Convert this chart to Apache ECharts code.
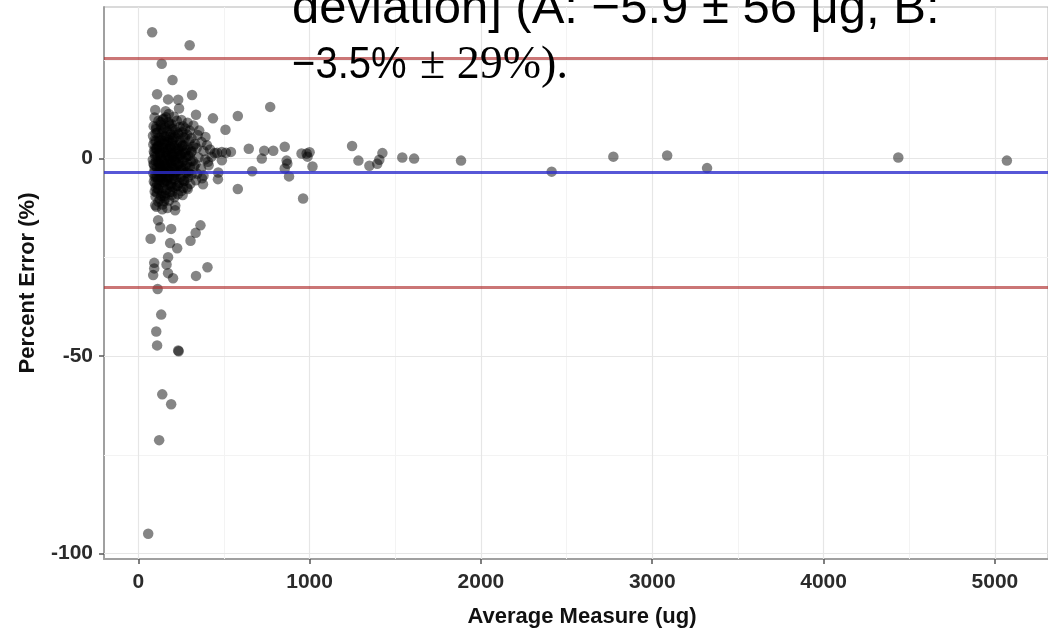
<!DOCTYPE html>
<html><head><meta charset="utf-8">
<script src="https://cdn.jsdelivr.net/npm/echarts@6/dist/echarts.min.js"></script>
<style>html,body{margin:0;padding:0;background:#fff}#c{width:1048px;height:633px}</style>
</head><body><div id="c"></div>
<script>
// ---- data ----
const avgMeasure = [
  // scattered points
  81,300,137,200,110,174,233,314,238,99,337,436,581,770,509,
  645,735,788,855,721,866,870,855,953,983,1000,988,1017,880,665,581,962,
  1248,1285,1349,1395,1407,1425,1541,1610,1884,2413,2773,3087,3320,4436,5070,
  460,488,512,541,488,467,465,407,372,378,
  99,151,215,116,128,192,72,363,335,305,186,227,174,165,174,203,93,93,87,337,404,113,134,105,110,233,236,140,192,122,58,
  // dense cluster
  95,118,148,176,208,252,288,
  90,104,131,158,184,216,241,274,322,356,
  86,101,119,141,163,189,206,229,262,284,311,347,392,
  88,103,114,136,151,171,186,199,226,246,271,298,331,369,401,
  91,106,126,139,161,176,196,214,236,257,281,309,341,381,419,446,
  85,99,116,129,149,166,181,201,219,241,264,291,318,352,391,428,
  92,109,124,141,157,174,191,209,231,251,276,301,334,366,411,
  88,101,121,134,156,169,187,206,224,249,279,311,344,381,
  91,111,129,151,167,189,211,239,269,304,336,
  96,114,139,164,186,216,251,289,
  101,126,154,179,211,259,
  106,141,169,216,
  // cluster core
  130,162,195,225,
  112,146,170,200,258,300,
  95,128,152,178,214,240,272,
  97,120,144,164,192,210,233,260,288,320,
  95,111,133,154,170,188,207,228,248,272,300,
  89,104,120,137,153,171,196,214,236,258,284,306,
  96,115,131,147,163,181,197,216,240,263,292,
  95,118,140,160,178,198,222,258,290,
  102,121,145,175,200,228,262,
  108,133,160,196,232,
  105,122,138,143,159,167,183,190,204,213,221,234,247,255,266,278,293,312,327,
  119,135,156,178,199,123,109,147,188,231,173,117,98,262,284,205,150,126,244,216,181,160,140,195,107,132
];
const percentError = [
  32.0,28.7,24.0,19.9,16.3,15.0,14.9,16.1,12.7,12.3,11.1,10.2,10.8,13.1,7.3,
  2.5,2.0,2.0,3.0,0.0,-0.5,-1.3,-2.5,1.3,1.3,1.6,0.5,-2.0,-4.5,-3.2,-7.7,-10.1,
  3.2,-0.5,-1.8,-1.3,-0.3,1.4,0.3,0.0,-0.5,-3.3,0.5,0.8,-2.4,0.3,-0.5,
  1.5,1.7,1.5,1.7,-0.4,-3.5,-5.2,-0.8,-5.0,-6.5,
  -11.8,-10.8,-13.1,-15.6,-17.4,-17.8,-20.3,-16.9,-18.8,-20.8,-21.4,-22.7,-25.0,-26.8,-29.0,-30.3,-26.4,-27.8,-29.5,-29.7,-27.5,-33.0,-39.5,-43.8,-47.3,-48.6,-48.8,-59.7,-62.2,-71.3,-95.0,
  10.4,9.6,10.1,9.3,10.6,9.8,9.1,
  8.2,7.5,8.6,7.8,8.3,7.2,8.0,7.6,8.4,7.1,
  5.8,6.4,5.3,6.7,5.6,6.2,5.1,6.6,5.4,6.1,5.2,6.0,5.5,
  3.6,4.4,3.2,4.7,3.8,4.2,3.1,4.6,3.5,4.1,3.3,4.5,3.7,4.2,3.4,
  1.8,2.5,1.4,2.8,1.7,2.4,1.2,2.6,1.9,1.3,2.2,1.6,2.7,1.9,2.3,1.4,
  -0.3,0.6,-0.8,0.4,-0.5,0.8,-0.2,0.5,-0.7,0.2,-0.4,0.7,-0.6,0.3,-0.2,0.5,
  -1.6,-2.4,-1.3,-2.7,-1.8,-2.3,-1.2,-2.6,-1.5,-2.8,-1.9,-2.2,-1.4,-2.5,-1.7,
  -3.7,-4.5,-3.3,-4.2,-3.6,-4.8,-3.4,-4.4,-3.2,-4.6,-3.5,-4.1,-3.8,-4.3,
  -5.8,-6.5,-5.4,-6.2,-5.6,-6.8,-5.3,-6.1,-5.7,-6.4,-5.5,
  -8.3,-7.6,-8.7,-7.9,-8.4,-7.4,-8.2,-7.7,
  -9.6,-10.3,-9.4,-10.6,-9.8,-9.2,
  -12.2,-11.6,-12.5,-11.9,
  9.2,10.5,8.7,9.6,
  6.6,7.4,6.9,7.5,6.7,7.1,
  4.6,5.2,5.6,4.7,5.4,4.5,5.3,
  2.6,3.3,2.8,3.5,2.7,3.2,2.5,3.4,2.9,3.1,
  1.3,0.7,1.1,1.6,0.8,1.4,0.6,1.2,0.9,1.5,0.7,
  -1.3,-0.7,-1.2,-0.6,-1.4,-0.9,-1.1,-0.5,-1.3,-0.8,-1.2,-0.7,
  -2.6,-3.4,-2.9,-3.3,-2.7,-3.1,-2.4,-3.5,-3.0,-2.5,-3.2,
  -4.6,-5.3,-4.9,-5.5,-4.7,-5.2,-4.5,-5.4,-4.8,
  -7.3,-6.7,-7.5,-6.6,-7.2,-6.9,-7.4,
  -8.6,-9.4,-8.8,-9.3,-9.0,
  8.1,4.3,-0.2,9.9,-3.9,2.1,5.4,-6.3,-0.5,-4.1,2.0,6.2,-1.8,3.1,-5.6,0.4,-3.7,1.9,-2.0,
  -7.8,7.6,-10.1,11.3,-8.4,1.8,-4.6,-5.9,0.2,-6.9,-1.4,-10.9,-6.2,8.2,-7.3,6.1,4.4,-2.2,0.9,-2.6,8.8,12.0,-12.8,3.8,2.7,-4.4
];
const xTickValues = [0, 1000, 2000, 3000, 4000, 5000];
const xMinorValues = [500, 1500, 2500, 3500, 4500];
const yTickValues = [-100, -50, 0];
const yMinorValues = [-75, -25, 25];
const meanBias = -3.5;
const limitsOfAgreement = [25.5, -32.5];
const xTitle = 'Average Measure (ug)';
const yTitle = 'Percent Error (%)';
const captionLine1 = 'deviation] (A: \u22125.9 \u00b1 56 \u03bcg, B:';
const captionLine2a = '\u22123.5%';
const captionLine2b = '\u00b1 29%).';

// ---- chart ----
const points = avgMeasure.map((x, i) => [x, percentError[i]]);
const sansBold = "'Liberation Sans', Arial, sans-serif";
const chart = echarts.init(document.getElementById('c'), null, {renderer: 'canvas'});

const gridLines = [].concat(
  xMinorValues.map(v => ({xAxis: v, lineStyle: {color: '#f3f3f3', width: 1, type: 'solid'}})),
  yMinorValues.map(v => ({yAxis: v, lineStyle: {color: '#f3f3f3', width: 1, type: 'solid'}})),
  xTickValues.map(v => ({xAxis: v, lineStyle: {color: '#e6e6e6', width: 1.2, type: 'solid'}})),
  yTickValues.map(v => ({yAxis: v, lineStyle: {color: '#e6e6e6', width: 1.2, type: 'solid'}}))
);
const refLines = [].concat(
  limitsOfAgreement.map(v => ({yAxis: v, lineStyle: {color: 'rgba(175,45,45,0.65)', width: 2.8, type: 'solid'}})),
  [{yAxis: meanBias, lineStyle: {color: 'rgba(45,45,205,0.8)', width: 2.8, type: 'solid'}}]
);

chart.setOption({
  animation: false,
  backgroundColor: '#fff',
  grid: {left: 104, right: -3, top: 7, bottom: 71, show: true, borderColor: '#b5b5b5', borderWidth: 1, backgroundColor: '#fff'},
  xAxis: {
    type: 'value', min: -200, max: 5310,
    name: xTitle, nameLocation: 'middle', nameGap: 47,
    nameTextStyle: {fontFamily: sansBold, fontWeight: 'bold', fontSize: 22, color: '#111', padding: [0, 0, 0, 12]},
    axisLine: {show: true, onZero: false, lineStyle: {color: '#a0a0a0', width: 2}},
    axisTick: {show: true, customValues: xTickValues, length: 5, lineStyle: {color: '#555', width: 1.5}},
    axisLabel: {customValues: xTickValues, formatter: v => String(v), margin: 13, fontFamily: sansBold, fontWeight: 'bold', fontSize: 21, color: '#2b2b2b'},
    splitLine: {show: false}
  },
  yAxis: {
    type: 'value', min: -101.4, max: 38.4,
    name: yTitle, nameLocation: 'middle', nameGap: 65, nameRotate: 90,
    nameTextStyle: {fontFamily: sansBold, fontWeight: 'bold', fontSize: 22, color: '#111'},
    axisLine: {show: true, onZero: false, lineStyle: {color: '#a0a0a0', width: 2}},
    axisTick: {show: true, customValues: yTickValues, length: 5, lineStyle: {color: '#555', width: 1.5}},
    axisLabel: {customValues: yTickValues, formatter: v => String(v), margin: 11, fontFamily: sansBold, fontWeight: 'bold', fontSize: 21, color: '#2b2b2b'},
    splitLine: {show: false}
  },
  series: [
    {type: 'scatter', data: [], z: 1, silent: true,
     markLine: {z: 1, silent: true, symbol: ['none', 'none'], label: {show: false}, animation: false, data: gridLines}},
    {type: 'scatter', data: points, z: 3, symbolSize: 10.5, symbol: 'circle',
     itemStyle: {color: 'rgba(0,0,0,0.6)', borderWidth: 0, borderColor: 'transparent'}},
    {type: 'scatter', data: [], z: 6, silent: true,
     markLine: {z: 6, silent: true, symbol: ['none', 'none'], label: {show: false}, animation: false, data: refLines}}
  ],
  graphic: [
    {type: 'text', x: 292, y: 9, z: 100, style: {text: captionLine1, font: "49px 'Liberation Sans', Arial, sans-serif", fill: '#000', verticalAlign: 'middle'}},
    {type: 'text', x: 292, y: 66, z: 100, scaleX: 0.91, style: {text: captionLine2a, font: "44px 'Liberation Sans', Arial, sans-serif", fill: '#000', verticalAlign: 'middle'}},
    {type: 'text', x: 420, y: 66, z: 100, style: {text: captionLine2b, font: "46px 'Liberation Serif', 'Times New Roman', serif", fill: '#000', verticalAlign: 'middle'}}
  ]
});
</script></body></html>
